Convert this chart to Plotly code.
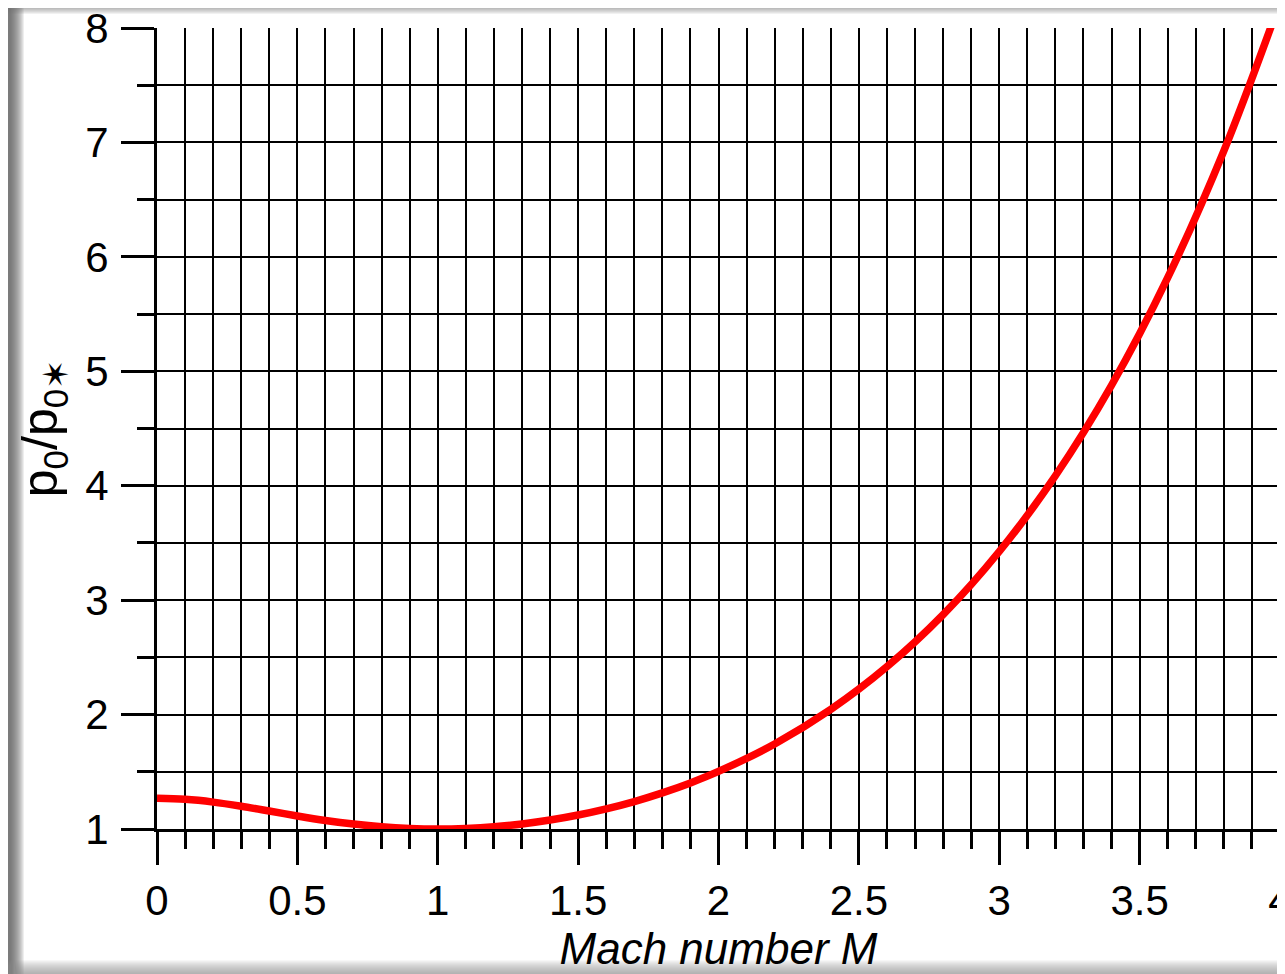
import plotly.graph_objects as go

# Rayleigh flow stagnation pressure ratio p0/p0*
mach = [0.0, 0.1, 0.2, 0.3, 0.4, 0.5, 0.6, 0.7, 0.8, 0.9, 1.0,
        1.1, 1.2, 1.3, 1.4, 1.5, 1.6, 1.7, 1.8, 1.9, 2.0,
        2.2, 2.4, 2.6, 2.8, 3.0, 3.2, 3.4, 3.6, 3.8, 4.0]
p0_ratio = [1.268, 1.259, 1.235, 1.199, 1.157, 1.114, 1.075, 1.043, 1.019, 1.005, 1.000,
            1.005, 1.019, 1.044, 1.078, 1.122, 1.176, 1.240, 1.316, 1.403, 1.503,
            1.743, 2.045, 2.418, 2.873, 3.425, 4.087, 4.878, 5.818, 6.926, 8.227]

x_ticks = [0, 0.5, 1, 1.5, 2, 2.5, 3, 3.5, 4]
x_tick_labels = ["0", "0.5", "1", "1.5", "2", "2.5", "3", "3.5", "4"]
y_ticks = [1, 2, 3, 4, 5, 6, 7, 8]
y_tick_labels = ["1", "2", "3", "4", "5", "6", "7", "8"]

OFF = 8  # page body margin
W, H = 1285 - OFF, 974 - OFF
L, R, T, B = 157 - OFF, 1280 - OFF, 28 - OFF, 829 - OFF

fig = go.Figure()
fig.add_trace(go.Scatter(
    x=mach, y=p0_ratio, mode="lines", line_shape="spline",
    line=dict(color="#ff0000", width=7.5), showlegend=False, hoverinfo="x+y"))

FONT = "Liberation Sans, Arial, sans-serif"

fig.update_xaxes(
    range=[0, 4], tickvals=x_ticks, ticktext=x_tick_labels,
    showline=True, linecolor="black", linewidth=3,
    ticks="outside", ticklen=33, tickwidth=3, tickcolor="black",
    showgrid=True, gridcolor="black", gridwidth=1.5,
    minor=dict(dtick=0.1, ticks="outside", ticklen=17, tickwidth=3, tickcolor="black",
               showgrid=True, gridcolor="black", gridwidth=1.5),
    tickfont=dict(family=FONT, size=42, color="black"),
    ticklabeloverflow="allow",
    title=dict(text="<i>Mach number M</i>", font=dict(family=FONT, size=44, color="black"),
               standoff=8),
    zeroline=False, fixedrange=True, automargin=False,
)
fig.update_yaxes(
    range=[1, 8], tickvals=y_ticks, ticktext=y_tick_labels,
    showline=True, linecolor="black", linewidth=3,
    ticks="outside", ticklen=33, tickwidth=3, tickcolor="black",
    showgrid=True, gridcolor="black", gridwidth=1.5,
    minor=dict(dtick=0.5, ticks="outside", ticklen=17, tickwidth=3, tickcolor="black",
               showgrid=True, gridcolor="black", gridwidth=1.5),
    tickfont=dict(family=FONT, size=42, color="black"),
    ticklabelstandoff=4, ticklabeloverflow="allow",
    title=dict(text="p<sub>0</sub>/p<sub>0✶</sub>", font=dict(family=FONT, size=50, color="black"),
               standoff=12),
    zeroline=False, fixedrange=True, automargin=False,
)

# soft grey frame shadow around the picture (decorative); coordinates in window pixels
def px_x(p):
    return (p - OFF - L) / (R - L)

def px_y(p):
    return (B - (p - OFF)) / (B - T)

shapes = []
def band(x0, x1, y0, y1, color, op):
    shapes.append(dict(type="rect", xref="paper", yref="paper",
                       x0=px_x(x0), x1=px_x(x1), y0=px_y(y1), y1=px_y(y0),
                       fillcolor=color, opacity=op, line=dict(width=0), layer="below"))

for i in range(14):
    band(8, 11 + i, 0, 974, "#555555", 0.10)      # left edge
for i in range(6):
    band(8, 1285, 0, 9 + i, "#777777", 0.10)      # top edge
for i in range(14):
    band(8, 1285, 973 - i, 974, "#888888", 0.07)  # bottom edge
for i in range(5):
    band(1284 - i, 1285, 0, 974, "#999999", 0.08) # right edge

fig.update_layout(
    width=W, height=H,
    margin=dict(l=L, r=W - R, t=T, b=H - B, pad=0, autoexpand=False),
    paper_bgcolor="white", plot_bgcolor="white",
    shapes=shapes,
    font=dict(family=FONT, color="black"),
)

fig.write_html("out.html")
